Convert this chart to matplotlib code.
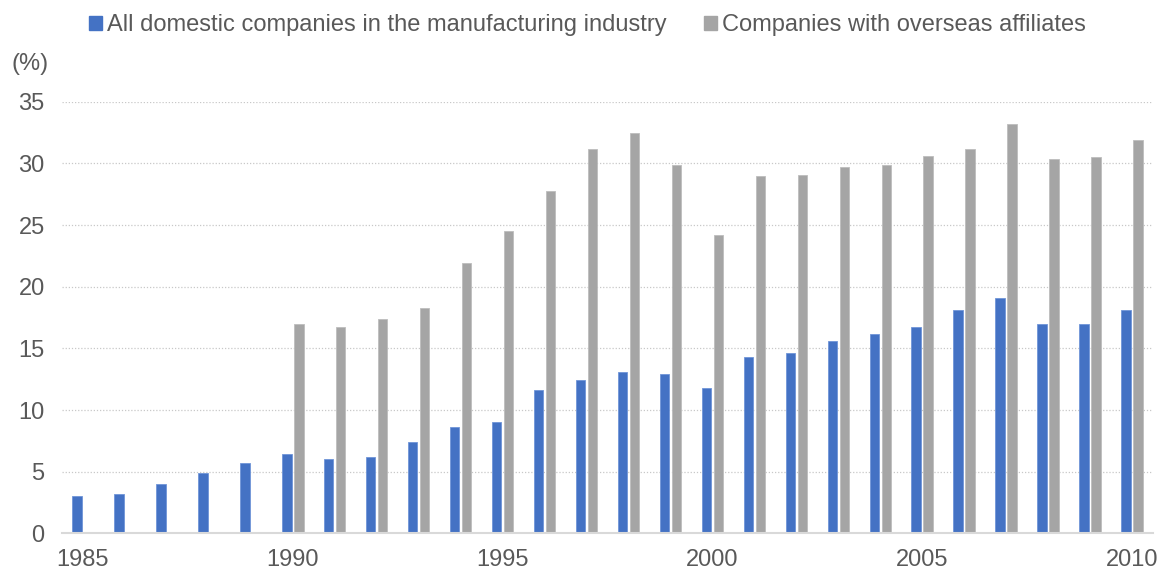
import numpy as np
import matplotlib.pyplot as plt
from matplotlib.patches import Patch

plt.rcParams['font.family'] = ['Liberation Sans', 'DejaVu Sans']

# ====== Data ======
years = list(range(1985, 2011))
domestic = [3.0, 3.2, 4.0, 4.9, 5.7, 6.4, 6.0, 6.2, 7.4, 8.6, 9.0, 11.6, 12.4,
            13.1, 12.9, 11.8, 14.3, 14.6, 15.6, 16.2, 16.7, 18.1, 19.1, 17.0,
            17.0, 18.1]
overseas = [np.nan] * 5 + [17.0, 16.7, 17.4, 18.3, 21.9, 24.5, 27.8, 31.2,
                           32.5, 29.9, 24.2, 29.0, 29.1, 29.7, 29.9, 30.6,
                           31.2, 33.2, 30.4, 30.5, 31.9]
tick_years = [1985, 1990, 1995, 2000, 2005, 2010]
label_dom = 'All domestic companies in the manufacturing industry'
label_ovs = 'Companies with overseas affiliates'

# ====== Plot ======
blue = '#4472C4'
grey = '#A5A5A5'
txt = '#595959'
fs = 17

fig = plt.figure(figsize=(11.63, 5.72), dpi=100)
ax = fig.add_axes([0.0533, 0.0677, 0.9381, 0.7543])

x = np.arange(len(years))
w = 0.226
gap = 0.06
ax.bar(x - (w + gap) / 2, domestic, width=w, color=blue,
       edgecolor='#6F95D8', linewidth=0.6, zorder=3)
ax.bar(x + (w + gap) / 2, overseas, width=w, color=grey,
       edgecolor='#BDBDBD', linewidth=0.6, zorder=3)

ax.set_xlim(-0.5, len(years) - 0.5)
ax.set_ylim(0, 35)
ax.set_yticks(range(0, 36, 5))
ax.set_xticks([years.index(y) for y in tick_years])
ax.set_xticklabels([str(y) for y in tick_years])
ax.tick_params(axis='both', length=0, labelsize=fs, colors=txt)
ax.tick_params(axis='y', pad=12.5)
ax.tick_params(axis='x', pad=11)

ax.yaxis.grid(True, linestyle=(0, (1, 1.5)), color='#C8C8C8', linewidth=0.9, zorder=0)
for s in ['top', 'right', 'left']:
    ax.spines[s].set_visible(False)
ax.spines['bottom'].set_color('#D9D9D9')
ax.spines['bottom'].set_linewidth(1.5)
ax.spines['bottom'].set_zorder(4)

fig.text(0.010, 0.888, '(%)', fontsize=fs, color=txt, va='center')

handles = [Patch(color=blue, label=label_dom), Patch(color=grey, label=label_ovs)]
fig.legend(handles=handles, loc='center', bbox_to_anchor=(0.505, 0.956), ncol=2,
           frameon=False, fontsize=fs, handlelength=0.55, handleheight=0.55,
           handletextpad=0.2, columnspacing=1.6, labelcolor=txt)

fig.savefig('out.png', dpi=100)
